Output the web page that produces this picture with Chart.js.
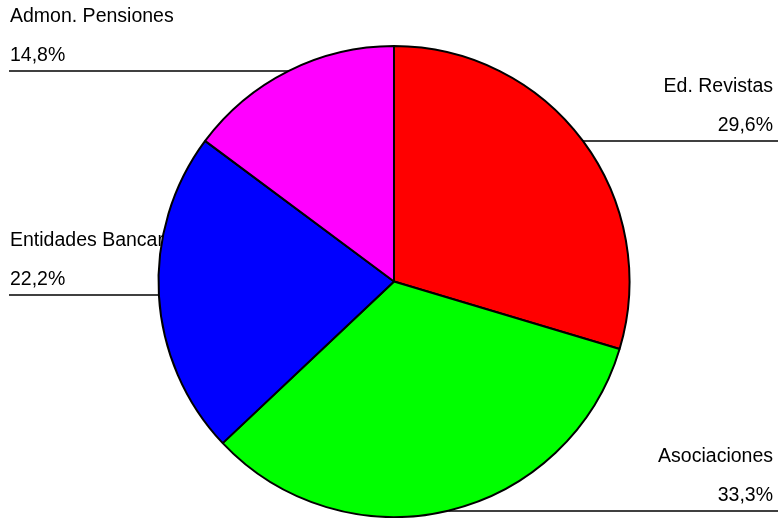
<!DOCTYPE html>
<html>
<head>
<meta charset="utf-8">
<script src="https://cdn.jsdelivr.net/npm/chart.js@4.4.1/dist/chart.umd.min.js"></script>
<style>
  html, body { margin: 0; padding: 0; background: #fff; }
  #wrap { width: 778px; height: 518px; }
</style>
</head>
<body>
<div id="wrap"><canvas id="pieChart"></canvas></div>
<script>
// datos
var labels = ["Ed. Revistas", "Asociaciones", "Entidades Bancarias", "Admon. Pensiones"];
var values = [8, 9, 6, 4];
var colors = ["#FF0000", "#00FF00", "#0000FF", "#FF00FF"];

var total = values.reduce(function (a, b) { return a + b; }, 0);

// etiquetas con linea hasta el borde del sector
var sideLabels = {
  id: 'sideLabels',
  beforeDatasetsDraw: function (chart) {
    var ctx = chart.ctx;
    var meta = chart.getDatasetMeta(0);
    ctx.save();
    ctx.font = '19.5px "Liberation Sans", Arial, sans-serif';
    ctx.fillStyle = '#000';
    ctx.strokeStyle = '#000';
    ctx.lineWidth = 1.6;
    ctx.textBaseline = 'alphabetic';
    meta.data.forEach(function (arc, i) {
      var p = arc.getProps(['x', 'y', 'startAngle', 'endAngle', 'outerRadius'], true);
      var mid = (p.startAngle + p.endAngle) / 2;
      var ex = p.x + Math.cos(mid) * p.outerRadius;
      var ey = Math.round(p.y + Math.sin(mid) * p.outerRadius);
      var right = ex > p.x;
      var pct = (values[i] / total * 100).toFixed(1).replace('.', ',') + '%';
      ctx.beginPath();
      if (right) {
        ctx.moveTo(ex, ey);
        ctx.lineTo(chart.width, ey);
        ctx.textAlign = 'right';
        ctx.fillText(labels[i], 773, ey - 49);
        ctx.fillText(pct, 773, ey - 10);
      } else {
        ctx.moveTo(9, ey);
        ctx.lineTo(ex, ey);
        ctx.textAlign = 'left';
        ctx.fillText(labels[i], 10, ey - 49);
        ctx.fillText(pct, 10, ey - 10);
      }
      ctx.stroke();
    });
    ctx.restore();
  }
};

var ctxP = document.getElementById("pieChart").getContext('2d');
var myPieChart = new Chart(ctxP, {
  type: 'pie',
  data: {
    labels: labels,
    datasets: [{
      data: values,
      backgroundColor: colors,
      borderColor: '#000',
      borderWidth: 2
    }]
  },
  options: {
    responsive: true,
    maintainAspectRatio: false,
    animation: false,
    layout: { padding: { top: 45, bottom: 0, left: 10, right: 0 } },
    plugins: {
      legend: { display: false },
      tooltip: { enabled: false }
    }
  },
  plugins: [sideLabels]
});
</script>
</body>
</html>
